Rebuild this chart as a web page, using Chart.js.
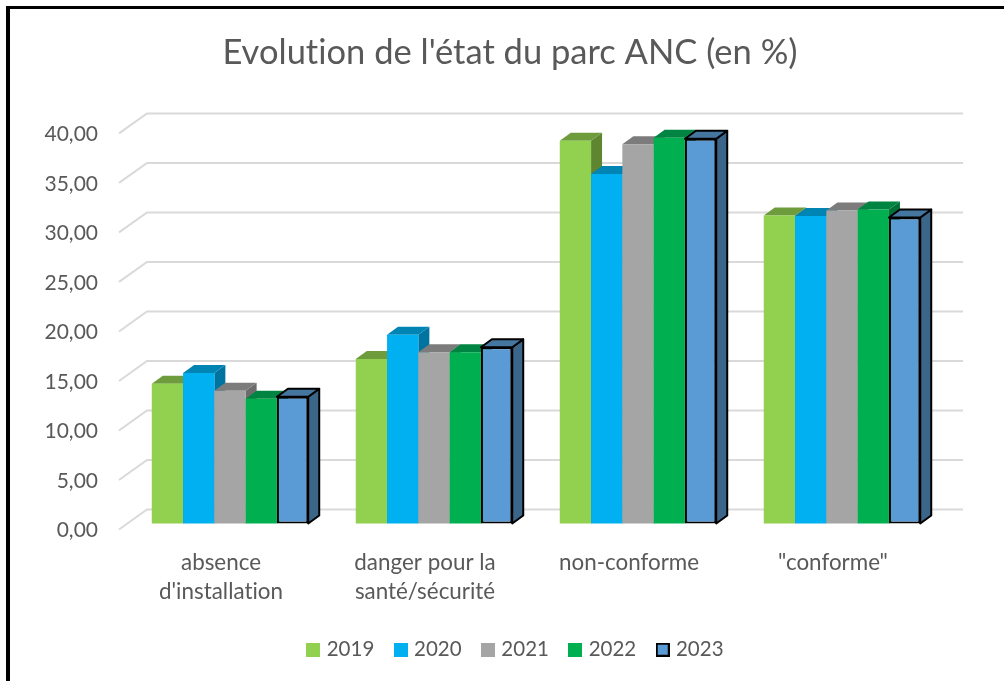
<!DOCTYPE html>
<html>
<head>
<meta charset="utf-8">
<style>
  body { margin: 0; background: #fff; }
  #frame { position: absolute; left: 6px; top: 6px; right: 0; bottom: 0; border-left: 4px solid #000; border-top: 3px solid #000; }
  #wrap { position: absolute; left: 0; top: 0; width: 1004px; height: 681px; }
</style>
<script src="https://cdn.jsdelivr.net/npm/chart.js@4/dist/chart.umd.min.js"></script>
</head>
<body>
<div id="frame"></div>
<div id="wrap"><canvas id="chart" width="1004" height="681"></canvas></div>
<script>
const categories = [['absence', "d'installation"], ['danger pour la', 'santé/sécurité'], ['non-conforme'], ['"conforme"']]
const years = ['2019', '2020', '2021', '2022', '2023']
const values2019 = [14.1, 16.6, 38.65, 31.1]
const values2020 = [15.2, 19.05, 35.3, 31.05]
const values2021 = [13.4, 17.3, 38.3, 31.6]
const values2022 = [12.6, 17.3, 38.95, 31.7]
const values2023 = [12.8, 17.8, 38.85, 30.9]
const allValues = [values2019, values2020, values2021, values2022, values2023]

const frontColors = ['#92d050', '#00b0f0', '#a5a5a5', '#00b050', '#5b9bd5']
const topColors = ['#6e9c3c', '#0084b4', '#7c7c7c', '#008441', '#4476a0']
const sideColors = ['#5e8530', '#0074a0', '#6c6c6c', '#007038', '#3b6589']
const outlined = [false, false, false, false, true]

const textColor = '#595959'
const fontName = 'Lato'

// the bars sit a little behind the front edge of the floor
const barShiftX = 9
const barShiftY = -6
const barDepthX = 11
const barDepthY = -8
const gridDepthX = 28
const gridDepthY = -20
const gridRight = 963
const legendShift = 7

// legend boxes are images so the gap to the text can be closer than Chart.js allows
const swatches = frontColors.map((color, i) => {
  const c = document.createElement('canvas')
  c.width = 14
  c.height = 14
  const g = c.getContext('2d')
  g.fillStyle = color
  g.fillRect(0, 0, 14, 14)
  if (outlined[i]) {
    g.strokeStyle = '#000'
    g.lineWidth = 2
    g.strokeRect(1, 1, 12, 12)
  }
  return c
})

function drawDepth(ctx, meta, i) {
  meta.data.forEach(bar => {
    const { x, y, base, width } = bar.getProps(['x', 'y', 'base', 'width'], true)
    const l = x - width / 2
    const r = x + width / 2
    const face = (points, fill) => {
      ctx.beginPath()
      points.forEach((p, n) => (n ? ctx.lineTo(p[0], p[1]) : ctx.moveTo(p[0], p[1])))
      ctx.closePath()
      ctx.fillStyle = fill
      ctx.fill()
      if (outlined[i]) {
        ctx.strokeStyle = '#000'
        ctx.lineWidth = 2
        ctx.lineJoin = 'round'
        ctx.stroke()
      }
    }
    face([[r, y], [r + barDepthX, y + barDepthY], [r + barDepthX, base + barDepthY], [r, base]], sideColors[i])
    face([[l, y], [l + barDepthX, y + barDepthY], [r + barDepthX, y + barDepthY], [r, y]], topColors[i])
  })
}

const depthPlugin = {
  id: 'depth',
  beforeLayout(chart) {
    chart.ctx.textRendering = 'optimizeSpeed'
  },
  afterLayout(chart) {
    chart.legend.left += legendShift
    chart.legend.right += legendShift
  },
  beforeDraw(chart) {
    chart.ctx.textRendering = 'optimizeSpeed'
  },
  // bars have to go down left to right so each front covers the previous side face
  beforeDatasetsDraw(chart) {
    const { ctx, chartArea, scales } = chart
    ctx.save()
    ctx.strokeStyle = '#d9d9d9'
    ctx.lineWidth = 2
    scales.y.ticks.forEach(tick => {
      const y = scales.y.getPixelForValue(tick.value)
      ctx.beginPath()
      ctx.moveTo(chartArea.left, y)
      ctx.lineTo(chartArea.left + gridDepthX, y + gridDepthY)
      ctx.lineTo(gridRight, y + gridDepthY)
      ctx.stroke()
    })
    ctx.restore()
    years.forEach((year, i) => {
      const meta = chart.getDatasetMeta(i)
      ctx.save()
      ctx.translate(barShiftX, barShiftY)
      drawDepth(ctx, meta, i)
      meta.controller.draw()
      ctx.restore()
    })
    return false
  }
}

new Chart(document.getElementById('chart'), {
  type: 'bar',
  data: {
    labels: categories,
    datasets: years.map((year, i) => ({
      label: year,
      data: allValues[i],
      backgroundColor: frontColors[i],
      borderColor: outlined[i] ? '#000' : frontColors[i],
      borderWidth: outlined[i] ? 2 : 0,
      borderSkipped: false,
      categoryPercentage: 0.767,
      barPercentage: 1,
      yAxisID: 'y'
    }))
  },
  options: {
    responsive: false,
    animation: false,
    layout: { padding: { left: 16, right: 0, top: 0, bottom: 11 } },
    scales: {
      x: {
        grid: { display: false },
        border: { display: false },
        ticks: {
          color: textColor,
          autoSkip: false,
          maxRotation: 0,
          padding: 10.5,
          font: { family: fontName, size: 22.4, lineHeight: 29 / 22.4 }
        },
        afterFit: scale => { scale.height = 86.5 }
      },
      y: {
        min: 0,
        max: 40,
        grid: { display: false },
        border: { display: false },
        ticks: {
          stepSize: 5,
          color: textColor,
          padding: 13,
          labelOffset: 1,
          font: { family: fontName, size: 21 },
          callback: value => value.toFixed(2).replace('.', ',')
        },
        afterFit: scale => { scale.width = 103 }
      },
      // only holds the empty margin on the right of the plot
      margin: {
        position: 'right',
        grid: { display: false },
        border: { display: false },
        ticks: { display: false },
        afterFit: scale => { scale.width = 69 }
      }
    },
    plugins: {
      tooltip: { enabled: false },
      title: {
        display: true,
        text: "Evolution de l'état du parc ANC (en %)",
        color: textColor,
        font: { family: fontName, size: 34.5, weight: 'normal', lineHeight: 1.2 },
        padding: { top: 32, bottom: 60 }
      },
      legend: {
        position: 'bottom',
        labels: {
          usePointStyle: true,
          pointStyleWidth: 6,
          padding: 23.5,
          color: textColor,
          font: { family: fontName, size: 20.5 },
          generateLabels: chart =>
            Chart.defaults.plugins.legend.labels.generateLabels(chart).map((item, i) => ({
              ...item,
              pointStyle: swatches[i]
            }))
        }
      }
    }
  },
  plugins: [depthPlugin]
})
</script>
</body>
</html>
